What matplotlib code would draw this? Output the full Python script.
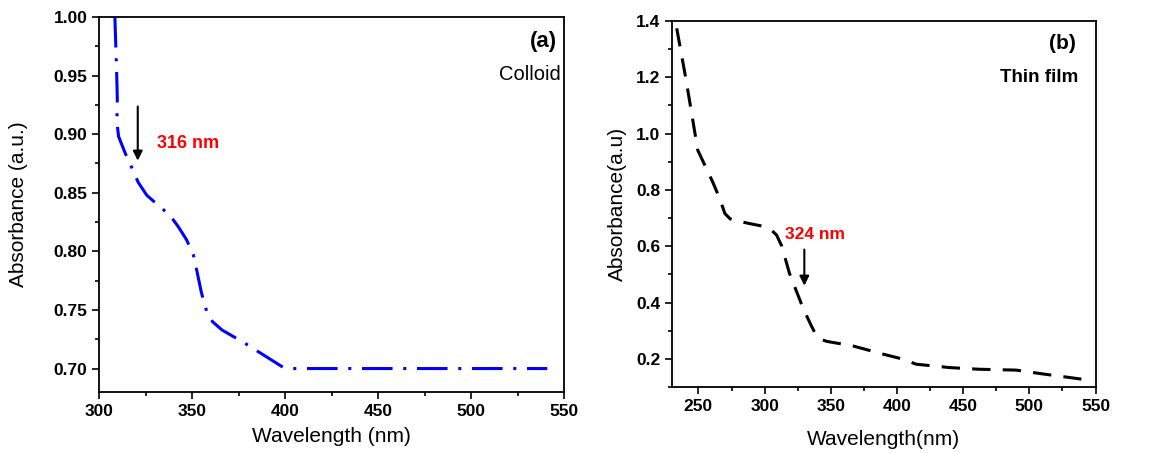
import matplotlib.pyplot as plt
from matplotlib.ticker import MultipleLocator

plt.rcParams['font.family'] = ['Liberation Sans', 'DejaVu Sans']

# (a) colloid
wl_a = [308.5, 309.5, 309.8, 309.6, 310.5, 314, 318, 321, 325.6, 332, 338, 342.6, 347,
        350.7, 352.5, 355, 358, 361, 366, 378, 392, 399, 403, 541]
abs_a = [1.00, 0.95, 0.93, 0.91, 0.898, 0.884, 0.870, 0.859, 0.848, 0.839, 0.831, 0.821, 0.810,
         0.797, 0.784, 0.765, 0.748, 0.740, 0.733, 0.722, 0.708, 0.701, 0.700, 0.700]

# (b) thin film
wl_b = [233.6, 240.7, 249.5, 260.8, 266, 270, 274, 281, 292.3, 300, 305, 309, 313, 318.8, 328.8,
        335.2, 338.5, 342, 347, 366.6, 389.3, 404.4, 414.5, 439.7, 462.4, 490.1, 507.7, 539.3]
abs_b = [1.374, 1.19, 0.941, 0.828, 0.77, 0.716, 0.697, 0.688, 0.677, 0.670, 0.658, 0.640, 0.600,
         0.503, 0.383, 0.318, 0.288, 0.270, 0.262, 0.246, 0.217, 0.199, 0.181, 0.169, 0.163,
         0.160, 0.148, 0.128]

fig = plt.figure(figsize=(11.52, 4.53), dpi=100)
ax1 = fig.add_axes([0.086, 0.1347, 0.4036, 0.8278])
ax2 = fig.add_axes([0.5833, 0.1457, 0.3677, 0.8079])


def style(ax):
    for s in ax.spines.values():
        s.set_linewidth(1.3)
    ax.tick_params(which='both', direction='out', width=1.2, top=False, right=False)
    ax.tick_params(which='major', length=5, labelsize=12.5)
    ax.tick_params(which='minor', length=3)
    for lab in ax.get_xticklabels() + ax.get_yticklabels():
        lab.set_fontweight('bold')


ax1.plot(wl_a, abs_a, color='blue', lw=2.2, dashes=(10, 3.5, 1, 3.5))
ax1.set_xlim(300, 550)
ax1.set_ylim(0.68, 1.00)
ax1.xaxis.set_major_locator(MultipleLocator(50))
ax1.xaxis.set_minor_locator(MultipleLocator(25))
ax1.yaxis.set_major_locator(MultipleLocator(0.05))
ax1.yaxis.set_minor_locator(MultipleLocator(0.025))
ax1.yaxis.set_major_formatter('{x:.2f}')
ax1.set_xlabel('Wavelength (nm)', fontsize=15, labelpad=6)
ax1.set_ylabel('Absorbance (a.u.)', fontsize=15, labelpad=18)
style(ax1)
ax1.annotate('', xy=(320.8, 0.875), xytext=(320.8, 0.926),
             arrowprops=dict(arrowstyle='-|>', color='black', lw=1.5, mutation_scale=14))
ax1.text(331, 0.892, '316 nm', color='red', fontweight='bold', fontsize=13, va='center')
ax1.text(546, 0.979, '(a)', fontweight='bold', fontsize=16, ha='right', va='center')
ax1.text(548, 0.951, 'Colloid', fontsize=14.5, ha='right', va='center')

ax2.plot(wl_b, abs_b, color='black', lw=2.2, dashes=(6, 4))
ax2.set_xlim(230, 550)
ax2.set_ylim(0.1, 1.4)
ax2.xaxis.set_major_locator(MultipleLocator(50))
ax2.xaxis.set_minor_locator(MultipleLocator(25))
ax2.yaxis.set_major_locator(MultipleLocator(0.2))
ax2.yaxis.set_minor_locator(MultipleLocator(0.1))
ax2.yaxis.set_major_formatter('{x:.1f}')
ax2.set_xlabel('Wavelength(nm)', fontsize=15, labelpad=12)
ax2.set_ylabel('Absorbance(a.u)', fontsize=15, labelpad=6)
style(ax2)
ax2.annotate('', xy=(330, 0.45), xytext=(330, 0.598),
             arrowprops=dict(arrowstyle='-|>', color='black', lw=1.5, mutation_scale=14))
ax2.text(338, 0.641, '324 nm', color='red', fontweight='bold', fontsize=12.5, ha='center', va='center')
ax2.text(535, 1.32, '(b)', fontweight='bold', fontsize=15, ha='right', va='center')
ax2.text(537, 1.20, 'Thin film', fontweight='bold', fontsize=13.5, ha='right', va='center')

fig.savefig('out.png', dpi=100)
